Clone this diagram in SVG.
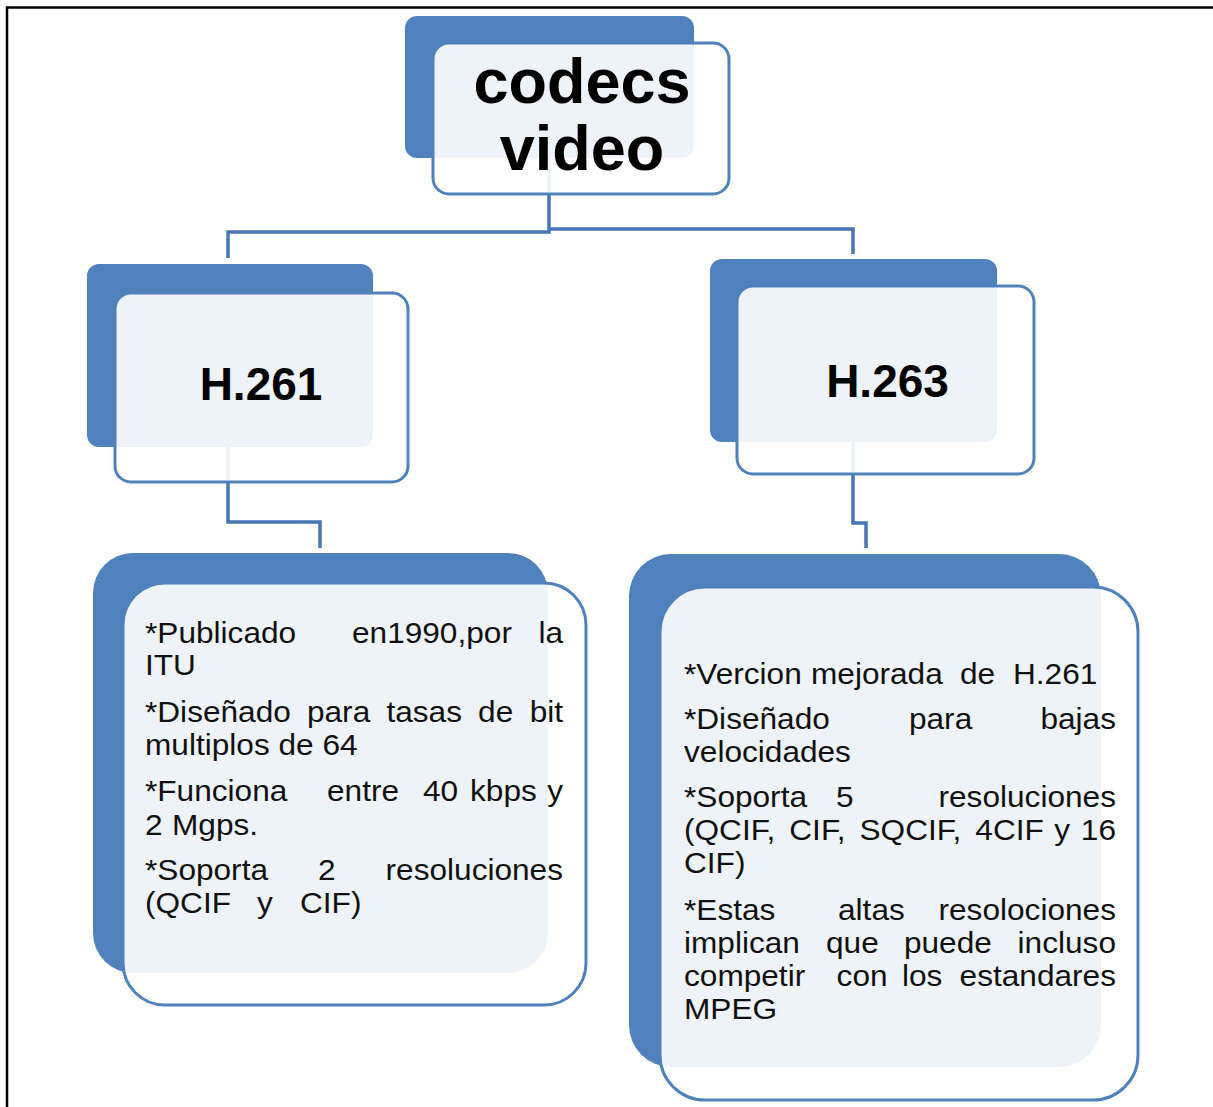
<svg xmlns="http://www.w3.org/2000/svg" width="1213" height="1107" viewBox="0 0 1213 1107">
<style>
.back{fill:#4F81BD}
.front{fill:#ffffff;fill-opacity:0.9;stroke:#4F81BD;stroke-width:3}
.conn{fill:none;stroke:#4676B4;stroke-width:3.5;stroke-linejoin:miter}
.head{font-family:"Liberation Sans",Arial,sans-serif;font-weight:bold;fill:#000;text-anchor:middle}
.body{font-family:"Liberation Sans",Arial,sans-serif;font-size:29px;fill:#111}
.end{text-anchor:end}
</style>
<rect x="0" y="0" width="1213" height="1107" fill="#fff"/>
<g id="frame" fill="none" stroke="#000" stroke-width="2.5">
<path d="M7,1107 V7.5 H1213"/>
</g>
<g id="connectors">
<path class="conn" d="M549,150 V232 H228 V258"/>
<path class="conn" d="M549,229 H853 V254"/>
<path class="conn" d="M228,447 V522 H320 V548"/>
<path class="conn" d="M853,442 V523 H866 V548"/>
</g>
<g id="node-root">
<rect class="back" x="405" y="16" width="289" height="142" rx="12"/>
<rect class="front" x="433" y="43" width="296" height="151" rx="16"/>
<text class="head" x="582" y="103" font-size="63">codecs</text>
<text class="head" x="582" y="170" font-size="63">video</text>
</g>
<g id="node-h261">
<rect class="back" x="87" y="264" width="286" height="183" rx="12"/>
<rect class="front" x="115" y="293" width="293" height="189" rx="16"/>
<text class="head" x="261" y="400" font-size="46">H.261</text>
</g>
<g id="node-h263">
<rect class="back" x="710" y="259" width="287" height="183" rx="12"/>
<rect class="front" x="737" y="286" width="297" height="188" rx="16"/>
<text class="head" x="887.5" y="397" font-size="46">H.263</text>
</g>
<g id="node-h261-details">
<rect class="back" x="93" y="553" width="455" height="420" rx="40"/>
<rect class="front" x="123" y="583" width="463" height="422" rx="42"/>
<g transform="translate(145 0) scale(1.09 1)">
<text class="body" y="643"><tspan x="0">*Publicado</tspan><tspan x="189.9">en1990,por</tspan></text>
<text class="body end" x="383.5" y="643">la</text>
<text class="body" x="0" y="675">ITU</text>
<text class="body" y="722"><tspan x="0">*Diseñado</tspan><tspan x="148.6">para</tspan><tspan x="221.5">tasas</tspan><tspan x="305.6">de</tspan></text>
<text class="body end" x="383.5" y="722">bit</text>
<text class="body" x="0" y="755">multiplos de 64</text>
<text class="body" y="801"><tspan x="0">*Funciona</tspan><tspan x="167">entre</tspan><tspan x="255">40</tspan><tspan x="298.2">kbps</tspan></text>
<text class="body end" x="383.5" y="801">y</text>
<text class="body" y="835"><tspan x="0">2</tspan><tspan x="24.8">Mgps.</tspan></text>
<text class="body" y="880"><tspan x="0">*Soporta</tspan><tspan x="158.7">2</tspan></text>
<text class="body end" x="383.5" y="880">resoluciones</text>
<text class="body" y="913"><tspan x="0">(QCIF</tspan><tspan x="102.8">y</tspan><tspan x="142.2">CIF)</tspan></text>
</g>
</g>
<g id="node-h263-details">
<rect class="back" x="629" y="554" width="472" height="513" rx="42"/>
<rect class="front" x="660" y="587" width="478" height="513" rx="45"/>
<g transform="translate(684 0) scale(1.09 1)">
<text class="body" y="684"><tspan x="0">*Vercion</tspan><tspan x="116.5">mejorada</tspan><tspan x="253.2">de</tspan><tspan x="301.8">H.261</tspan></text>
<text class="body" y="729"><tspan x="0">*Diseñado</tspan><tspan x="206.4">para</tspan></text>
<text class="body end" x="396.3" y="729">bajas</text>
<text class="body" x="0" y="762">velocidades</text>
<text class="body" y="807"><tspan x="0">*Soporta</tspan><tspan x="139.4">5</tspan></text>
<text class="body end" x="396.3" y="807">resoluciones</text>
<text class="body" y="840"><tspan x="0">(QCIF,</tspan><tspan x="96.6">CIF,</tspan><tspan x="161">SQCIF,</tspan><tspan x="267.3">4CIF</tspan><tspan x="339.8">y</tspan></text>
<text class="body end" x="396.3" y="840">16</text>
<text class="body" x="0" y="873">CIF)</text>
<text class="body" y="920"><tspan x="0">*Estas</tspan><tspan x="141.3">altas</tspan></text>
<text class="body end" x="396.3" y="920">resolociones</text>
<text class="body" y="953"><tspan x="0">implican</tspan><tspan x="130.3">que</tspan><tspan x="201.8">puede</tspan></text>
<text class="body end" x="396.3" y="953">incluso</text>
<text class="body" y="986"><tspan x="0">competir</tspan><tspan x="140">con</tspan><tspan x="200">los</tspan></text>
<text class="body end" x="396.3" y="986">estandares</text>
<text class="body" x="0" y="1019">MPEG</text>
</g>
</g>
</svg>
